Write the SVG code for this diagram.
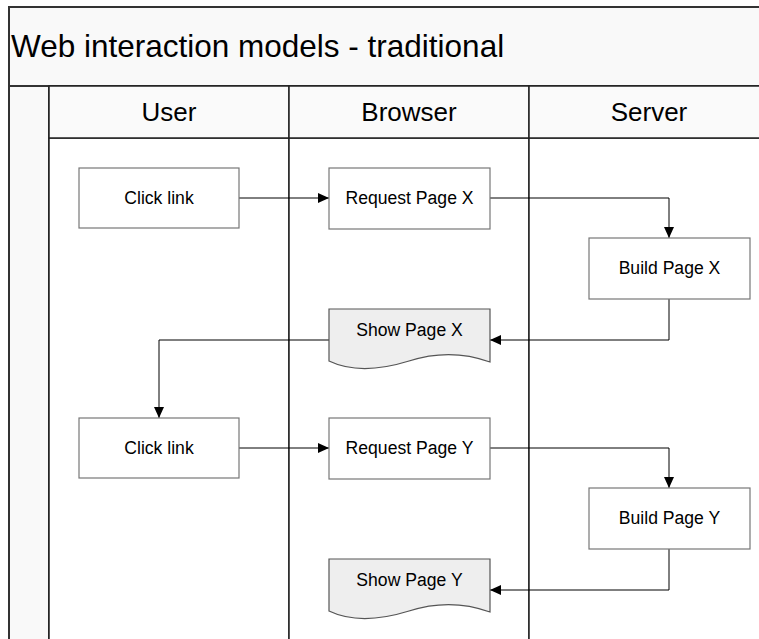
<svg xmlns="http://www.w3.org/2000/svg" width="759" height="639" viewBox="0 0 759 639">
  <style>
    .frame { fill: #f9f9f9; stroke: #333; stroke-width: 2; }
    .lane { fill: #ffffff; stroke: #222; stroke-width: 1.5; }
    .hdr { fill: #fafafa; stroke: #222; stroke-width: 1.5; }
    .title { font-family: "Liberation Sans", Arial, sans-serif; font-size: 31.5px; fill: #000; }
    .lanelabel { font-family: "Liberation Sans", Arial, sans-serif; font-size: 26px; fill: #000; text-anchor: middle; }
    .box { fill: #ffffff; stroke: #777; stroke-width: 1.2; }
    .doc { fill: #eeeeee; stroke: #555; stroke-width: 1.2; }
    .label { font-family: "Liberation Sans", Arial, sans-serif; font-size: 17.6px; fill: #000; text-anchor: middle; }
    .conn { fill: none; stroke: #000; stroke-width: 1; }
  </style>
  <defs>
    <marker id="arrow" markerUnits="userSpaceOnUse" markerWidth="12" markerHeight="12" refX="11" refY="5.5" orient="auto">
      <path d="M0,0.5 L11,5.5 L0,10.5 Z" fill="#000"/>
    </marker>
  </defs>

  <!-- Pool frame and title band -->
  <g id="pool">
    <rect class="frame" x="9" y="7" width="770" height="79"/>
    <text class="title" x="11" y="57">Web interaction models - traditional</text>
    <rect class="frame" x="9" y="86" width="40" height="570"/>
  </g>

  <!-- Swimlanes -->
  <g id="lane-user">
    <rect class="lane" x="49" y="138" width="240" height="520"/>
    <rect class="hdr" x="49" y="86" width="240" height="52"/>
    <text class="lanelabel" x="169" y="120.5">User</text>
  </g>
  <g id="lane-browser">
    <rect class="lane" x="289" y="138" width="240" height="520"/>
    <rect class="hdr" x="289" y="86" width="240" height="52"/>
    <text class="lanelabel" x="409" y="120.5">Browser</text>
  </g>
  <g id="lane-server">
    <rect class="lane" x="529" y="138" width="240" height="520"/>
    <rect class="hdr" x="529" y="86" width="240" height="52"/>
    <text class="lanelabel" x="649" y="120.5">Server</text>
  </g>

  <!-- Connectors -->
  <g id="connectors">
    <path class="conn" d="M239,198 H329" marker-end="url(#arrow)"/>
    <path class="conn" d="M490,198 H669 V238" marker-end="url(#arrow)"/>
    <path class="conn" d="M669,299 V340 H490" marker-end="url(#arrow)"/>
    <path class="conn" d="M329,340 H159 V418" marker-end="url(#arrow)"/>
    <path class="conn" d="M239,448 H329" marker-end="url(#arrow)"/>
    <path class="conn" d="M490,448 H669 V488" marker-end="url(#arrow)"/>
    <path class="conn" d="M669,549 V590 H490" marker-end="url(#arrow)"/>
  </g>

  <!-- Process steps -->
  <g id="click-link-1">
    <rect class="box" x="79" y="168" width="160" height="60"/>
    <text class="label" x="159" y="204.3">Click link</text>
  </g>
  <g id="request-page-x">
    <rect class="box" x="329" y="168" width="161" height="61"/>
    <text class="label" x="409.5" y="204.3">Request Page X</text>
  </g>
  <g id="build-page-x">
    <rect class="box" x="589" y="238" width="161" height="61"/>
    <text class="label" x="669.5" y="274.3">Build Page X</text>
  </g>
  <g id="show-page-x">
    <path class="doc" d="M329,309 H490 V362 C468,354 440,351 409,361 C380,370 352,372 329,361 Z"/>
    <text class="label" x="409.5" y="336">Show Page X</text>
  </g>
  <g id="click-link-2">
    <rect class="box" x="79" y="418" width="160" height="60"/>
    <text class="label" x="159" y="454.3">Click link</text>
  </g>
  <g id="request-page-y">
    <rect class="box" x="329" y="418" width="161" height="61"/>
    <text class="label" x="409.5" y="454.3">Request Page Y</text>
  </g>
  <g id="build-page-y">
    <rect class="box" x="589" y="488" width="161" height="61"/>
    <text class="label" x="669.5" y="524.3">Build Page Y</text>
  </g>
  <g id="show-page-y">
    <path class="doc" d="M329,559 H490 V612 C468,604 440,601 409,611 C380,620 352,622 329,611 Z"/>
    <text class="label" x="409.5" y="586">Show Page Y</text>
  </g>
</svg>
